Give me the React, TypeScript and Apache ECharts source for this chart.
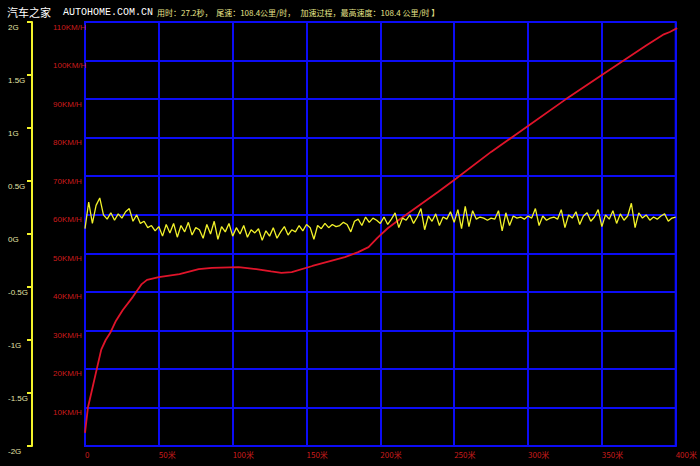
import React, { useEffect, useRef } from "react";
import * as echarts from "echarts";

// Speed (km/h) versus distance (m)
const speedDistances = [0, 2, 5, 8, 11, 14, 17, 21, 25.6, 32.4, 38.4, 42, 50, 64, 77, 86, 104, 116, 126, 133, 140, 154, 176, 185, 192, 198, 205, 212, 239, 250, 275, 300, 325, 349, 365, 380, 392, 396, 401];
const speedValues = [3.4, 10, 15, 20, 25, 27.5, 29.3, 32.5, 35.3, 38.7, 42.0, 43.1, 43.8, 44.6, 45.9, 46.2, 46.4, 45.9, 45.3, 44.9, 45.1, 46.7, 49.0, 50.3, 51.6, 54.0, 56.5, 58.5, 65.9, 69.0, 76.3, 83.0, 89.8, 96.0, 100.1, 103.9, 106.8, 107.4, 108.4];

// Longitudinal acceleration (G), one sample every 2.5 m from 0 m
const gSampleStepM = 2.5;
const gValues = [
  0.05, 0.30, 0.10, 0.27,
  0.34, 0.18, 0.14, 0.20, 0.13, 0.19, 0.15, 0.21, 0.24, 0.12, 0.18,
  0.10, 0.12, 0.06, 0.08,
  0.03, 0.07, -0.02, 0.09, 0.01, 0.10, -0.03, 0.08, 0.02, 0.11, -0.01, 0.06, 0.04, -0.04, 0.09, 0.00, 0.12, -0.05, 0.07, 0.02, 0.10, -0.02,
  0.06, 0.00, 0.08, -0.03, 0.04, 0.01, 0.05, -0.06, 0.03, -0.02, 0.06, -0.04, 0.02, 0.07, -0.01, 0.04, 0.02, 0.08, 0.03, 0.09,
  0.06, -0.05, 0.08, 0.05, 0.10, 0.06, 0.09, 0.07, 0.08, 0.11, 0.09, 0.02, 0.12, 0.14, 0.08, 0.16, 0.11, 0.15, 0.13, 0.10,
  0.16, 0.09, 0.14, 0.20, 0.06, 0.15, 0.13, 0.18, 0.10, 0.16, 0.24, 0.04, 0.17, 0.12, 0.19, 0.08, 0.16, 0.14, 0.21, 0.11,
  0.23, 0.05, 0.26, 0.07, 0.22, 0.14, 0.16, 0.15, 0.13, 0.15, 0.14, 0.22, 0.03, 0.20, 0.08, 0.17, 0.15, 0.16, 0.14, 0.17,
  0.15, 0.24, 0.08, 0.17, 0.13, 0.15, 0.16, 0.14, 0.23, 0.06, 0.18, 0.15, 0.21, 0.09, 0.17, 0.20, 0.12, 0.16, 0.23, 0.07,
  0.18, 0.14, 0.22, 0.10, 0.19, 0.13, 0.17, 0.29, 0.06, 0.20, 0.15, 0.18, 0.13, 0.16, 0.14, 0.17, 0.19, 0.12, 0.15, 0.16,
];

const xMin = 0, xMax = 400, xStep = 50;
const speedMin = 0, speedMax = 110, speedStep = 10;
const gMin = -2, gMax = 2, gStep = 0.5;

// the opening of the title ("【 0-400米加速") is hidden under the watermark in the reference
const titleText = "用时：27.2秒，  尾速：108.4公里/时，   加速过程，最高速度：108.4 公里/时 】";
const brandCn = "汽车之家";
const brandEn = "AUTOHOME.COM.CN";

const BLUE = "#0c0cf5";
const RED = "#e0142a";
const RED_TEXT = "#cc1c1c";
const YELLOW = "#f2f22a";
const G_TEXT = "#e2e2a6";

export default function App() {
  const ref = useRef<HTMLDivElement>(null);
  useEffect(() => {
    document.body.style.margin = "0";
    document.body.style.background = "#000";
    const chart = echarts.init(ref.current!, null, { renderer: "svg" });
    const speedData = speedDistances.map((d, i) => [d, speedValues[i]]);
    const gData = gValues.map((g, i) => [i * gSampleStepM, g]);
    chart.setOption({
      animation: false,
      backgroundColor: "#000",
      grid: { left: 85, right: 22, top: 22, bottom: 20, show: true, borderColor: BLUE, borderWidth: 2, containLabel: false },
      xAxis: {
        type: "value", min: xMin, max: xMax, interval: xStep,
        axisLine: { show: true, lineStyle: { color: BLUE, width: 2 } },
        axisTick: { show: false },
        splitLine: { show: true, lineStyle: { color: BLUE, width: 2 } },
        axisLabel: {
          showMinLabel: true, showMaxLabel: true,
          formatter: (v: number) => (v === 0 ? "0" : v + "米"),
          color: RED_TEXT, fontSize: 8, fontFamily: "Noto Sans CJK SC", align: "left", margin: 4,
        },
      },
      yAxis: [
        {
          type: "value", min: speedMin, max: speedMax, interval: speedStep, position: "left",
          axisLine: { show: true, lineStyle: { color: BLUE, width: 2 } },
          axisTick: { show: false },
          splitLine: { show: true, lineStyle: { color: BLUE, width: 2 } },
          axisLabel: {
            showMinLabel: true, showMaxLabel: true,
            formatter: (v: number) => (v === 0 ? "" : v + "KM/H"),
            color: RED_TEXT, fontSize: 8, fontFamily: "Liberation Sans", align: "left", margin: 32, verticalAlign: "top", padding: [1, 0, 0, 0],
          },
        },
        {
          type: "value", min: gMin, max: gMax, interval: gStep, position: "left", offset: 53,
          axisLine: { show: true, lineStyle: { color: YELLOW, width: 2 } },
          axisTick: { show: true, length: 5, lineStyle: { color: YELLOW, width: 2 } },
          splitLine: { show: false },
          axisLabel: {
            showMinLabel: true, showMaxLabel: true,
            formatter: (v: number) => v + "G",
            color: G_TEXT, fontSize: 8, fontFamily: "Liberation Sans", align: "left", margin: 24, verticalAlign: "top", padding: [1, 0, 0, 0],
          },
        },
      ],
      series: [
        { type: "line", name: "速度", xAxisIndex: 0, yAxisIndex: 0, data: speedData, showSymbol: false, lineStyle: { color: RED, width: 1.8 }, z: 3 },
        { type: "line", name: "G值", xAxisIndex: 0, yAxisIndex: 1, data: gData, showSymbol: false, lineStyle: { color: YELLOW, width: 1.3 }, z: 4 },
      ],
      graphic: [
        { type: "text", x: 157, y: 12, z: 10, style: { text: titleText, fill: "#e6e48a", font: '8px "Noto Sans CJK SC"', verticalAlign: "middle" } },
        { type: "text", x: 7, y: 12, z: 11, style: { text: brandCn, fill: "#ffffff", font: '11px "Noto Sans CJK SC"', verticalAlign: "middle" } },
        { type: "text", x: 63, y: 12, z: 11, style: { text: brandEn, fill: "#ffffff", font: '10px "Liberation Mono"', verticalAlign: "middle" } },
      ],
    });
    return () => chart.dispose();
  }, []);
  return <div ref={ref} style={{ width: 700, height: 466, background: "#000" }} />;
}
